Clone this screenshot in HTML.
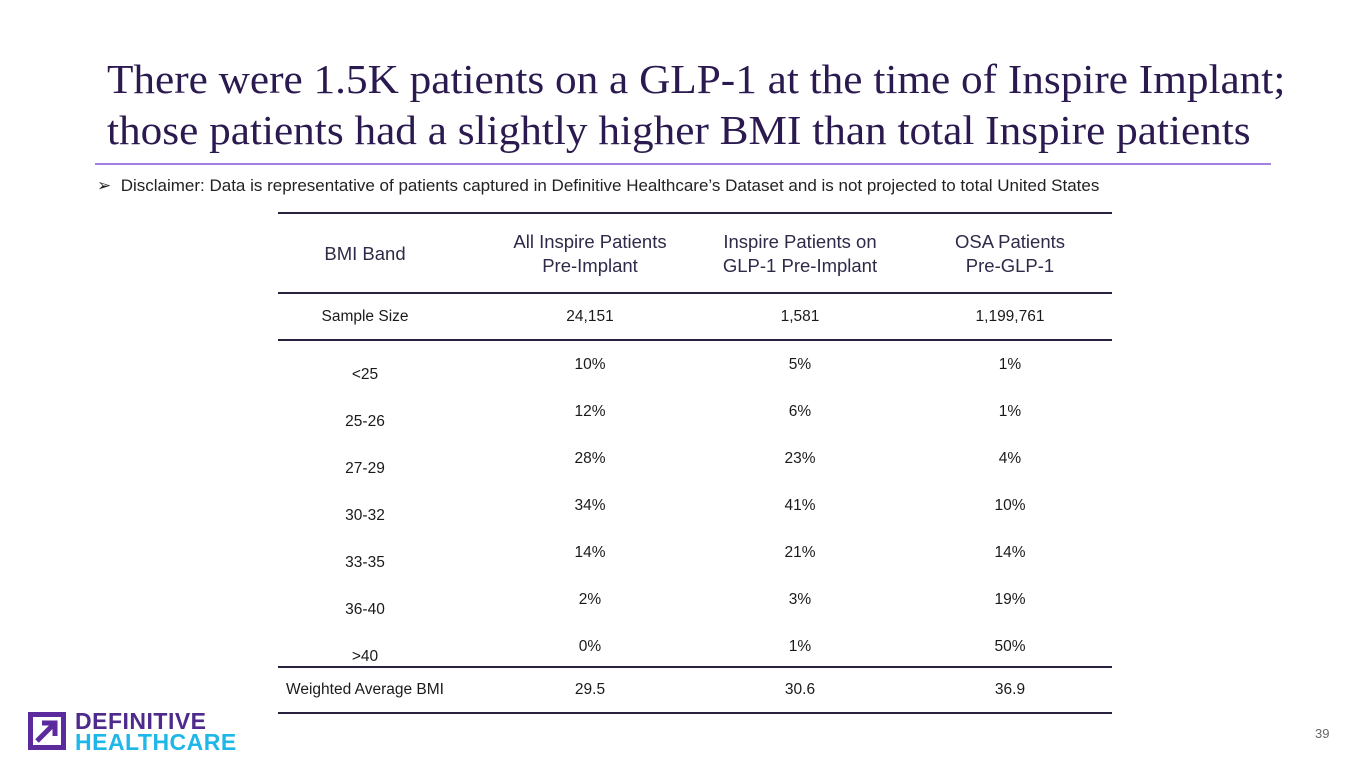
<!DOCTYPE html>
<html><head><meta charset="utf-8"><style>
body{margin:0;width:1365px;height:768px;background:#fff;position:relative;overflow:hidden;font-family:"Liberation Sans",Arial,sans-serif;}
.a{position:absolute;}
.t{position:absolute;left:107px;font-family:"Liberation Serif",serif;font-size:41px;color:#2b1a4f;white-space:nowrap;line-height:1;transform:scaleX(1.055);transform-origin:left top;}
.c{position:absolute;text-align:center;transform:translateX(-50%);white-space:nowrap;color:#1a1a1a;font-size:15.5px;}
.h{position:absolute;text-align:center;transform:translateX(-50%);white-space:nowrap;color:#2e2a48;font-size:18.5px;line-height:24px;}
.ln{position:absolute;left:278px;width:834px;height:1.5px;background:#2a2140;}
</style></head><body>
<div class="t" style="top:59px">There were 1.5K patients on a GLP-1 at the time of Inspire Implant;</div>
<div class="t" style="top:110px">those patients had a slightly higher BMI than total Inspire patients</div>
<div class="a" style="left:95px;top:163px;width:1176px;height:2px;background:#a57fe0"></div>
<div class="a" style="left:97px;top:176px;font-size:17px;color:#222;white-space:nowrap">➢&nbsp; Disclaimer: Data is representative of patients captured in Definitive Healthcare’s Dataset and is not projected to total United States</div>
<div id="tbl"></div>
<div class="a" style="left:28px;top:710px">
<svg width="38" height="38" style="position:absolute;left:0;top:2px"><rect x="2.5" y="2.5" width="33" height="33" fill="none" stroke="#5b2a9c" stroke-width="5"/><path d="M9 29 L27 11 M14 11 H27 V24" stroke="#5b2a9c" stroke-width="5" fill="none"/></svg>
<div class="a" style="left:47px;top:-2px;font-size:23px;font-weight:bold;color:#4d2a8c;letter-spacing:0.5px">DEFINITIVE</div>
<div class="a" style="left:47px;top:19px;font-size:23px;font-weight:bold;color:#1fb6e8;letter-spacing:0.5px">HEALTHCARE</div>
</div>
<div class="a" style="left:1315px;top:726px;font-size:13px;color:#666">39</div>
<script>
const headers=[["BMI Band"],["All Inspire Patients","Pre-Implant"],["Inspire Patients on","GLP-1 Pre-Implant"],["OSA Patients","Pre-GLP-1"]];
const sampleSizes=["24,151","1,581","1,199,761"];
const bands=["<25","25-26","27-29","30-32","33-35","36-40",">40"];
const allInspire=["10%","12%","28%","34%","14%","2%","0%"];
const glp1=["5%","6%","23%","41%","21%","3%","1%"];
const osa=["1%","1%","4%","10%","14%","19%","50%"];
const weighted=["29.5","30.6","36.9"];
const tbl=document.getElementById('tbl');
const xs=[365,590,800,1010];
function txt(cls,x,y,s,name){const d=document.createElement('div');d.className=cls;d.style.left=x+'px';d.style.top=y+'px';d.innerHTML=s;


tbl.appendChild(d);}
[212,292,339,666,712].forEach((y,i)=>{const l=document.createElement('div');l.className='ln';l.style.top=y+'px';


tbl.appendChild(l);});
headers.forEach((h,i)=>txt('h',xs[i],h.length==1?242:230,h.join('<br>'),'header-'+i));
txt('c',xs[0],308,'Sample Size','sample-size-label');
sampleSizes.forEach((v,i)=>txt('c',xs[i+1],308,v,'sample-size-'+i));
bands.forEach((b,r)=>{const y=356+r*47;
txt('c',xs[0],y+10,b.replace('<','&lt;').replace('>','&gt;'),'band-label-'+r);
[allInspire,glp1,osa].forEach((s,i)=>txt('c',xs[i+1],y,s[r],'cell-'+r+'-'+i));});
txt('c',xs[0],681,'Weighted Average BMI','weighted-label');
weighted.forEach((v,i)=>txt('c',xs[i+1],681,v,'weighted-'+i));
</script>
</body></html>
